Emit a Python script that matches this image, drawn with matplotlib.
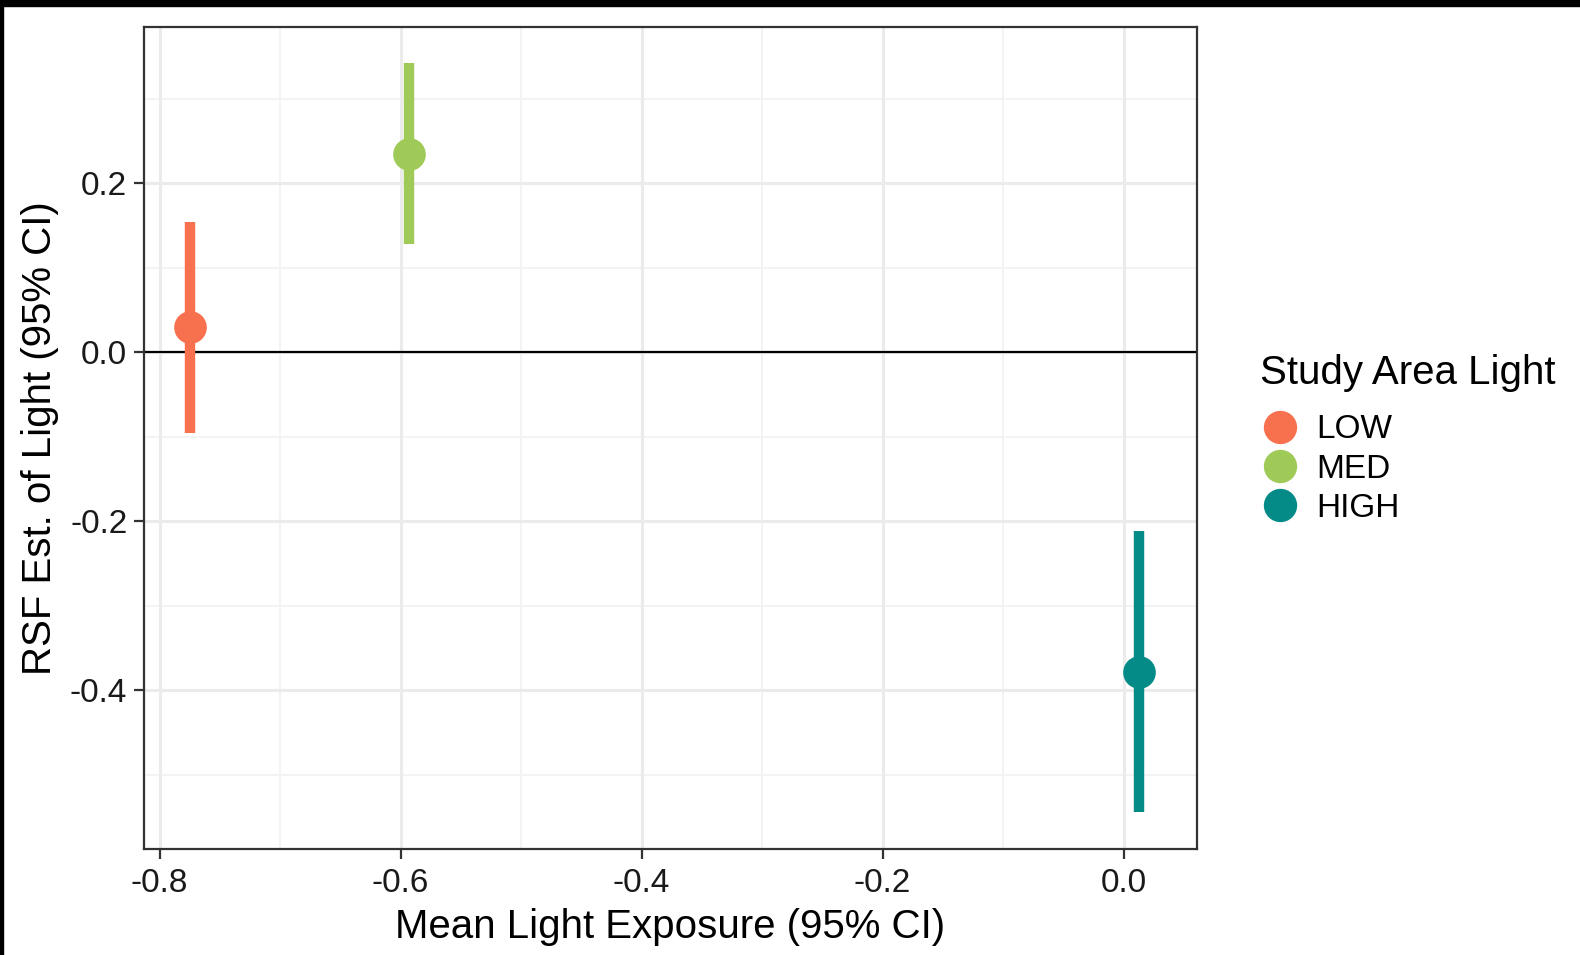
import matplotlib.pyplot as plt
from matplotlib.lines import Line2D
from matplotlib.patches import Rectangle

# estimates per study-area light class
groups = ['LOW', 'MED', 'HIGH']
exposure = [-0.775, -0.593, 0.013]
rsf_est = [0.030, 0.235, -0.378]
rsf_lo = [-0.095, 0.128, -0.544]
rsf_hi = [0.154, 0.342, -0.211]
colors = ['#F8714F', '#9FCA58', '#048B87']

x_major = [-0.8, -0.6, -0.4, -0.2, 0.0]
x_minor = [-0.7, -0.5, -0.3, -0.1]
y_major = [-0.4, -0.2, 0.0, 0.2]
y_minor = [-0.5, -0.3, -0.1, 0.1, 0.3]

plt.rcParams['font.family'] = ['Liberation Sans', 'DejaVu Sans']

fig = plt.figure(figsize=(15.8, 9.55), dpi=100)
ax = fig.add_axes([0.0911, 0.111, 0.6665, 0.8607])

# grid in the theme_bw style
for v in x_minor:
    ax.axvline(v, color='#F2F2F2', lw=1.3, zorder=0)
for v in y_minor:
    ax.axhline(v, color='#F2F2F2', lw=1.3, zorder=0)
for v in x_major:
    ax.axvline(v, color='#EBEBEB', lw=2.2, zorder=0)
for v in y_major:
    ax.axhline(v, color='#EBEBEB', lw=2.2, zorder=0)

ax.axhline(0, color='black', lw=1.6, zorder=1)

for i in range(len(groups)):
    ax.vlines(exposure[i], rsf_lo[i], rsf_hi[i], color=colors[i], lw=7.5, zorder=2)
    ax.plot(exposure[i], rsf_est[i], 'o', ms=23.5, color=colors[i], mec='none', zorder=3)

ax.set_xlim(-0.813, 0.061)
ax.set_ylim(-0.588, 0.385)
ax.set_xticks(x_major)
ax.set_xticklabels(['-0.8', '-0.6', '-0.4', '-0.2', '0.0'])
ax.set_yticks(y_major)
ax.set_yticklabels(['-0.4', '-0.2', '0.0', '0.2'])
ax.tick_params(length=7, width=1.6, color='#333333', labelsize=24,
               labelcolor='#1A1A1A', pad=5)
ax.tick_params(axis='x', pad=7)
for s in ax.spines.values():
    s.set_color('#333333')
    s.set_linewidth(1.6)

ax.set_xlabel('Mean Light Exposure (95% CI)', fontsize=29, labelpad=6)
ax.set_ylabel('RSF Est. of Light (95% CI)', fontsize=29, labelpad=8)

handles = [Line2D([], [], ls='none', marker='o', ms=24, color=c, mec='none')
           for c in colors]
leg = fig.legend(handles, groups, title='Study Area Light', loc='upper left',
                 bbox_to_anchor=(0.789, 0.643), frameon=False, fontsize=24,
                 title_fontsize=29, handletextpad=0.5, labelspacing=0.25,
                 borderaxespad=0, handlelength=1.2)
leg._legend_box.align = 'left'
leg._legend_box.sep = 16

# dark strips along the top and left edges
fig.patches.append(Rectangle((0, 1 - 6 / 955), 1, 6 / 955, transform=fig.transFigure,
                             color='black', zorder=10))
fig.patches.append(Rectangle((0, 0), 3 / 1580, 1, transform=fig.transFigure,
                             color='black', zorder=10))

fig.savefig('out.png', dpi=100)
